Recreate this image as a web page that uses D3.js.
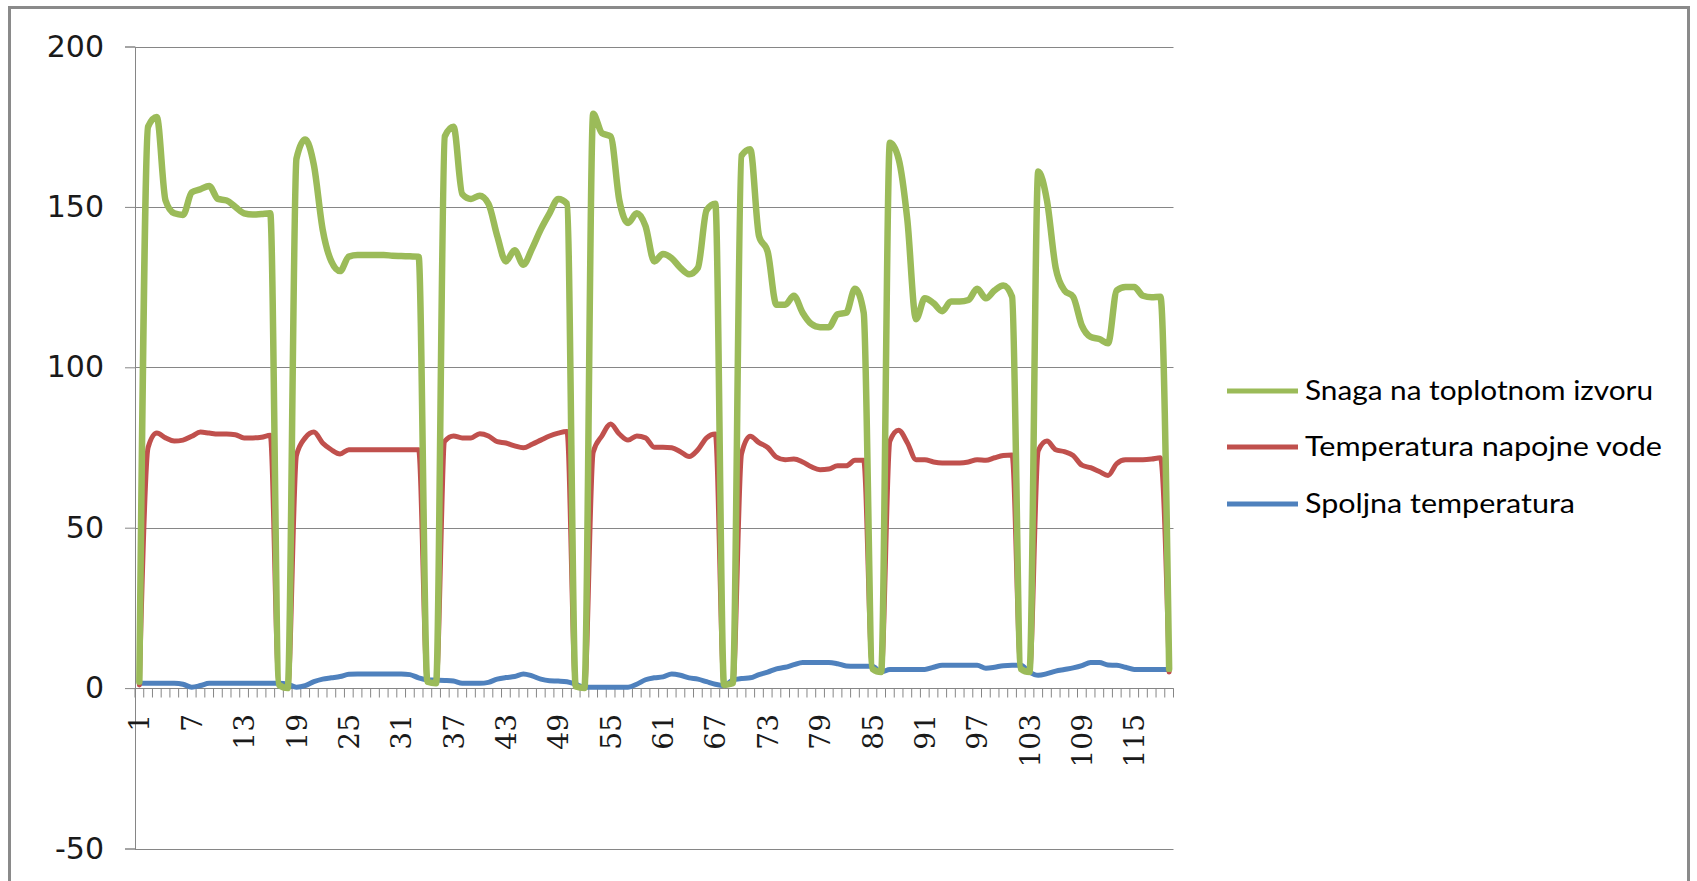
<!DOCTYPE html>
<html>
<head>
<meta charset="utf-8">
<script src="https://cdn.jsdelivr.net/npm/d3@7/dist/d3.min.js"></script>
<style>
  html, body { margin: 0; padding: 0; background: #fff; }
  svg { display: block; }
</style>
</head>
<body>
<svg id="chart" width="1697" height="881"></svg>
<script>
// Hourly samples 1..119
const categories = d3.range(1, 120);

// Snaga na toplotnom izvoru
const snaga = [
  2, 175, 178, 152, 148, 147.5, 154.5, 155.5, 156.5, 152.5,
  152, 150, 148, 147.6, 147.8, 148, 1, 0, 165, 171,
  163, 143, 133, 130, 134.5, 135, 135, 135, 135, 134.8,
  134.7, 134.6, 134.5, 2, 1.5, 172, 175, 154, 152.5, 153.5,
  151, 141, 133, 136.5, 132, 137, 143, 148, 152.5, 151,
  0.5, 0, 179, 173, 172, 152, 145, 148, 144, 133,
  135.3, 134, 131, 129, 131, 149, 151, 1, 1.5, 166,
  168, 141, 136, 119.5, 119.5, 122.3, 117, 113.5, 112.5, 112.5,
  116.5, 117, 124.5, 117, 6, 5, 170, 165, 146, 115,
  121.5, 120, 117.5, 120.5, 120.5, 121, 124.5, 121.5, 124, 125.5,
  122, 6, 5, 161, 152, 131, 124, 122, 113, 109.5,
  108.8, 107.5, 124, 125, 125, 122.3, 121.8, 122, 6
];

// Temperatura napojne vode
const napojna = [
  1, 75, 79.5, 78, 77, 77.3, 78.5, 79.8, 79.5, 79.2,
  79.2, 79, 78, 78, 78.2, 78.8, 1, 0, 72.5, 78,
  79.8, 76.4, 74.3, 73, 74.3, 74.3, 74.3, 74.3, 74.3, 74.3,
  74.3, 74.3, 74.3, 2, 1.5, 77, 78.6, 78, 78, 79.3,
  78.6, 76.8, 76.4, 75.5, 74.9, 76, 77.3, 78.6, 79.5, 80,
  0.5, 0, 73.5, 78.6, 82.3, 79.2, 77.3, 78.6, 78, 75.1,
  75.1, 74.9, 73.7, 72.2, 74.3, 78, 79.2, 1, 1.5, 73,
  78.5, 76.5, 75, 72, 71.2, 71.4, 70.5, 69, 68.1, 68.3,
  69.3, 69.3, 71, 71, 6, 5, 77, 80.4, 76.5, 71.2,
  71.2, 70.5, 70.2, 70.2, 70.2, 70.5, 71.2, 71, 71.8, 72.5,
  72.7, 6, 5, 74, 77, 74.3, 73.7, 72.5, 69.5, 68.7,
  67.5, 66.3, 70, 71.2, 71.2, 71.2, 71.4, 71.8, 5
];

// Spoljna temperatura
const spoljna = [
  1.5, 1.5, 1.5, 1.5, 1.5, 1.2, 0.3, 0.8, 1.5, 1.5,
  1.5, 1.5, 1.5, 1.5, 1.5, 1.5, 1.5, 1.2, 0.3, 0.8,
  2, 2.8, 3.2, 3.6, 4.3, 4.4, 4.4, 4.4, 4.4, 4.4,
  4.4, 4.2, 3.2, 2.6, 2.5, 2.4, 2.2, 1.5, 1.5, 1.5,
  1.8, 2.8, 3.3, 3.6, 4.4, 3.8, 2.8, 2.3, 2.2, 2,
  1.2, 0.3, 0.3, 0.3, 0.3, 0.3, 0.3, 1.2, 2.6, 3.2,
  3.5, 4.4, 4, 3.2, 2.8, 2, 1.2, 0.8, 2.5, 3,
  3.2, 4.2, 5, 6, 6.5, 7.3, 8, 8, 8, 8,
  7.6, 6.9, 6.8, 6.8, 6.8, 5, 5.8, 5.8, 5.8, 5.8,
  5.8, 6.5, 7.1, 7.1, 7.1, 7.1, 7.1, 6.2, 6.5, 7,
  7.1, 7.1, 5, 4, 4.5, 5.3, 5.8, 6.3, 7, 8,
  8, 7.2, 7.1, 6.5, 5.8, 5.8, 5.8, 5.8, 5.8
];

const yTicks = [-50, 0, 50, 100, 150, 200];
const xLabelStep = 6;

const seriesNames = ["Snaga na toplotnom izvoru", "Temperatura napojne vode", "Spoljna temperatura"];
const seriesColors = ["#9bbb59", "#c0504d", "#4f81bd"];

const svg = d3.select("#chart");
svg.append("rect").attr("width", 1697).attr("height", 881).attr("fill", "#fff");

// chart frame
svg.append("rect")
  .attr("x", 9.5).attr("y", 7.5)
  .attr("width", 1679).attr("height", 900)
  .attr("fill", "none").attr("stroke", "#8a8a8a").attr("stroke-width", 3);

const plot = { left: 135, right: 1173.5, top: 46.5, bottom: 848.5 };

const x = d3.scaleBand().domain(categories).range([plot.left, plot.right]).paddingInner(0).paddingOuter(0);
const xc = d => x(d) + x.bandwidth() / 2;
const y = d3.scaleLinear().domain([-50, 200]).range([plot.bottom, plot.top]);

const gridColor = "#868686";

// value axis with labels
const yAxis = d3.axisLeft(y).tickValues(yTicks).tickSize(10).tickPadding(20)
  .tickFormat(d => d);
const gy = svg.append("g").attr("transform", `translate(${plot.left},0)`).call(yAxis);
gy.select(".domain").attr("stroke", gridColor).attr("stroke-width", 1);
gy.selectAll(".tick line").attr("stroke", gridColor);
gy.selectAll(".tick text")
  .attr("font-family", "DejaVu Sans, sans-serif")
  .attr("font-size", 30).attr("fill", "#1a1a1a")
  .attr("x", -31);

// horizontal gridlines
svg.append("g").selectAll("line").data(yTicks).join("line")
  .attr("x1", plot.left).attr("x2", plot.right)
  .attr("y1", d => Math.round(y(d)) + 0.5).attr("y2", d => Math.round(y(d)) + 0.5)
  .attr("stroke", gridColor).attr("stroke-width", 1);

// category axis at zero
const y0 = Math.round(y(0)) + 0.5;
svg.append("line").attr("x1", plot.left).attr("x2", plot.right)
  .attr("y1", y0).attr("y2", y0).attr("stroke", gridColor).attr("stroke-width", 1.2);

// tick marks between categories
const boundaries = categories.map(d => x(d)).concat([plot.right]);
svg.append("g").selectAll("line").data(boundaries).join("line")
  .attr("x1", d => d).attr("x2", d => d)
  .attr("y1", y0).attr("y2", y0 + 9)
  .attr("stroke", gridColor).attr("stroke-width", 1);

// category labels
const labelled = categories.filter(d => (d - 1) % xLabelStep === 0);
svg.append("g").selectAll("text").data(labelled).join("text")
  .attr("transform", d => `translate(${xc(d)},714) rotate(-90)`)
  .attr("text-anchor", "end").attr("dy", "0.36em")
  .attr("font-family", "DejaVu Serif, serif")
  .attr("font-size", 28).attr("fill", "#1a1a1a")
  .text(d => d);

// series, drawn so the power curve sits on top
const series = [
  { name: seriesNames[2], values: spoljna, color: seriesColors[2], width: 5 },
  { name: seriesNames[1], values: napojna, color: seriesColors[1], width: 5 },
  { name: seriesNames[0], values: snaga, color: seriesColors[0], width: 6.5 }
];

const line = d3.line()
  .x((v, i) => xc(categories[i]))
  .y(v => y(v))
  .curve(d3.curveMonotoneX);

svg.append("g").selectAll("path").data(series).join("path")
  .attr("d", s => line(s.values))
  .attr("fill", "none")
  .attr("stroke", s => s.color)
  .attr("stroke-width", s => s.width)
  .attr("stroke-linejoin", "round")
  .attr("stroke-linecap", "round");

// legend
const legendRows = [
  { name: seriesNames[0], color: seriesColors[0], y: 391, len: 348 },
  { name: seriesNames[1], color: seriesColors[1], y: 447, len: 357 },
  { name: seriesNames[2], color: seriesColors[2], y: 504, len: 270 }
];
const lg = svg.append("g");
lg.selectAll("line").data(legendRows).join("line")
  .attr("x1", 1227).attr("x2", 1298)
  .attr("y1", d => d.y).attr("y2", d => d.y)
  .attr("stroke", d => d.color).attr("stroke-width", 5);
lg.selectAll("text").data(legendRows).join("text")
  .attr("x", 1305).attr("y", d => d.y).attr("dy", "0.35em")
  .attr("font-family", "Lato, sans-serif").attr("font-size", 27)
  .attr("fill", "#000")
  .attr("textLength", d => d.len).attr("lengthAdjust", "spacingAndGlyphs")
  .text(d => d.name);
</script>
</body>
</html>
